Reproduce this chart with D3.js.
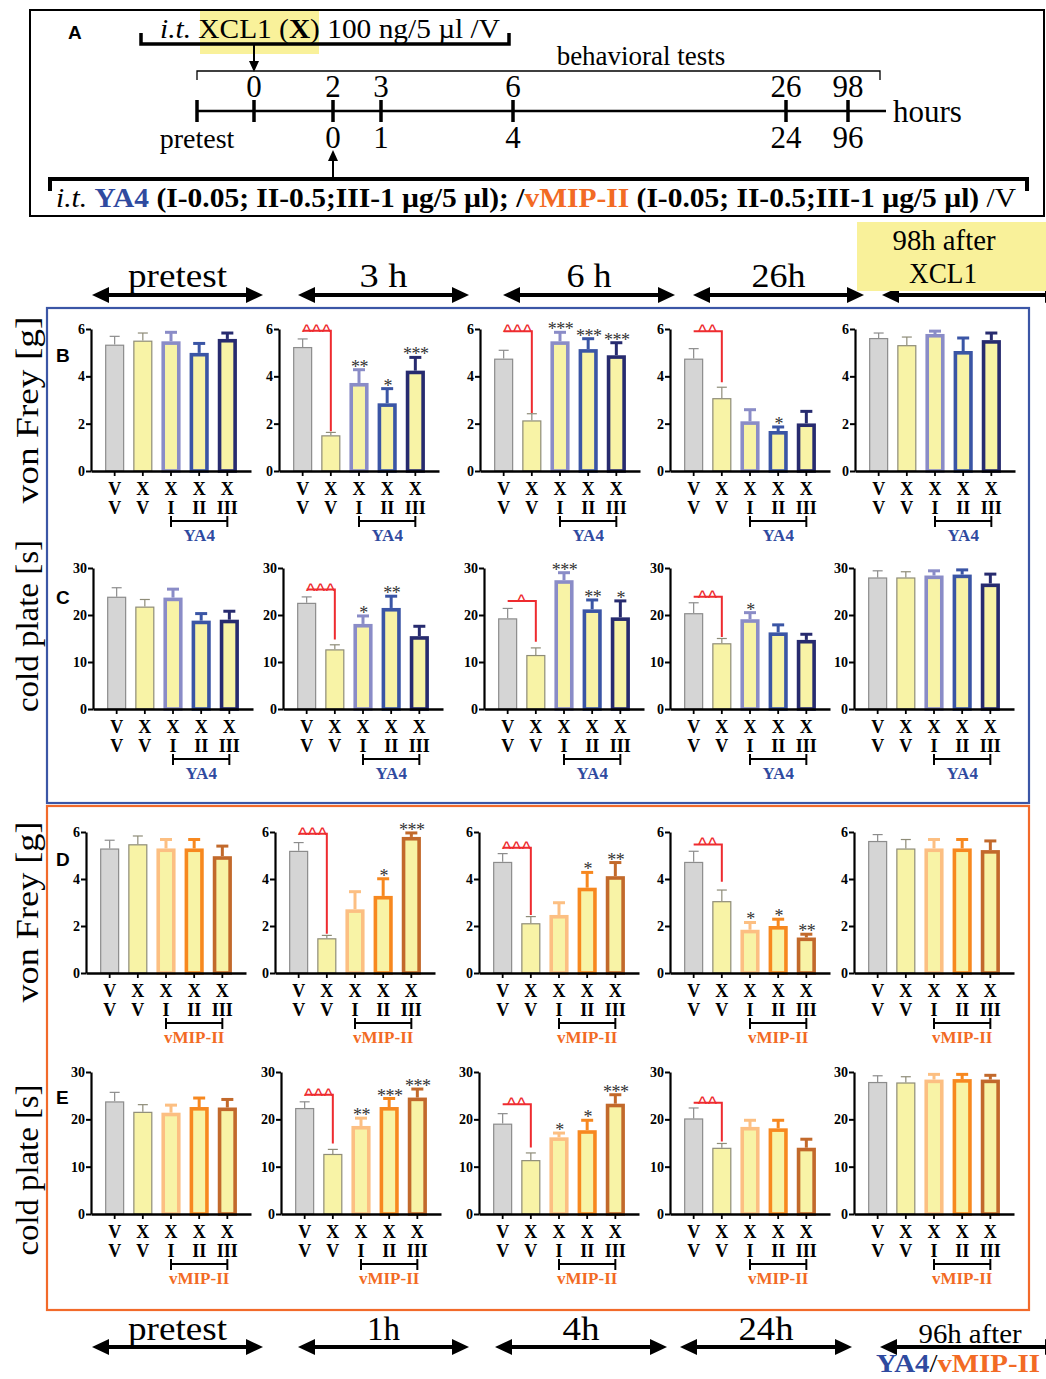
<!DOCTYPE html>
<html><head><meta charset="utf-8">
<script src="https://cdn.jsdelivr.net/npm/d3@7"></script>
<style>body{margin:0;background:#fff}</style>
</head><body>
<svg id="c" width="1046" height="1379" xmlns="http://www.w3.org/2000/svg"></svg>
<script>
// ---------------- DATA ----------------
const groupIds = ["VV","XV","XI","XII","XIII"];
const groupsLine1 = ["V","X","X","X","X"];
const groupsLine2 = ["V","V","I","II","III"];
const timeTop = ["pretest","3 h","6 h","26h"];
const timeTopLast = ["98h after","XCL1"];
const timeBottom = ["pretest","1h","4h","24h"];
const timeBottomLast = "96h after";
const timelineUpper = ["0","2","3","6","26","98"];
const timelineLower = ["0","1","4","24","96"];
const vonFreyTicks = [0,2,4,6];
const coldTicks = [0,10,20,30];

// B: von Frey, YA4 (mean, SEM) per time column
const vfYA4Mean = [[5.34,5.51,5.48,4.99,5.58],[5.24,1.51,3.72,2.86,4.24],[4.75,2.14,5.48,5.15,4.89],[4.75,3.08,2.10,1.69,2.01],[5.62,5.32,5.79,5.07,5.53]];
const vfYA4Err  = [[0.35,0.32,0.38,0.40,0.25],[0.34,0.12,0.56,0.62,0.56],[0.35,0.28,0.38,0.44,0.53],[0.42,0.46,0.49,0.17,0.51],[0.21,0.34,0.12,0.55,0.30]];
// C: cold plate, YA4
const cpYA4Mean = [[23.9,21.8,23.7,18.8,19.0],[22.6,12.7,18.1,21.5,15.5],[19.3,11.5,27.4,21.2,19.5],[20.4,14.0,19.1,16.3,14.7],[28.0,28.0,28.4,28.6,26.7]];
const cpYA4Err  = [[1.9,1.5,1.8,1.5,1.8],[1.25,0.96,1.7,2.5,2.1],[2.1,1.5,1.6,2.0,3.5],[2.2,1.0,1.4,1.6,1.2],[1.4,1.2,1.0,1.0,2.0]];
// D: von Frey, vMIP-II
const vfVMIPMean = [[5.30,5.48,5.30,5.30,4.97],[5.20,1.48,2.71,3.28,5.79],[4.73,2.12,2.47,3.63,4.12],[4.73,3.06,1.84,2.00,1.51],[5.62,5.30,5.30,5.30,5.23]];
const vfVMIPErr  = [[0.35,0.35,0.38,0.38,0.43],[0.35,0.12,0.75,0.73,0.17],[0.35,0.28,0.52,0.65,0.58],[0.45,0.47,0.31,0.29,0.14],[0.27,0.38,0.38,0.38,0.39]];
// E: cold plate, vMIP-II
const cpVMIPMean = [[23.8,21.6,21.4,22.6,22.5],[22.4,12.7,18.6,22.6,24.6],[19.1,11.4,16.2,17.7,23.3],[20.2,14.0,18.4,18.1,14.0],[27.9,27.8,28.4,28.5,28.4]];
const cpVMIPErr  = [[1.9,1.5,1.6,1.9,1.7],[1.3,0.95,1.65,1.8,1.8],[2.1,1.5,0.9,2.1,1.9],[2.2,0.9,1.4,1.7,1.8],[1.3,1.2,1.1,1.0,0.9]];

// significance marks
const starsB = [["","","","",""],["","","**","*","***"],["","","***","***","***"],["","","","*",""],["","","","",""]];
const starsC = [["","","","",""],["","","*","**",""],["","","***","**","*"],["","","*","",""],["","","","",""]];
const starsD = [["","","","",""],["","","","*","***"],["","","","*","**"],["","","*","*","**"],["","","","",""]];
const starsE = [["","","","",""],["","","**","***","***"],["","","*","*","***"],["","","","",""],["","","","",""]];
const caretsB = ["","^^^","^^^","^^",""];
const caretsC = ["","^^^","^","^^",""];
const caretsD = ["","^^^","^^^","^^",""];
const caretsE = ["","^^^","^^","^^",""];
const caretLevelB = [0,5.93,5.9,5.9,0],  caretEndB = [0,1.68,2.45,3.75,0];
const caretLevelC = [0,25.4,23.0,23.9,0], caretEndC = [0,14.8,14.3,15.3,0];
const caretLevelD = [0,5.93,5.33,5.47,0], caretEndD = [0,1.67,2.47,3.88,0];
const caretLevelE = [0,25.2,23.2,23.5,0], caretEndE = [0,14.9,14.05,15.3,0];

// ---------------- STYLE / LAYOUT ----------------
const SERIF = "'Liberation Serif','Times New Roman',serif";
const SANS = "'Liberation Sans',Arial,sans-serif";
const ya4Colors = ["#8a8cc7","#3a55a5","#272b6f"];
const vmipColors = ["#fcbf82","#f7881f","#c2692b"];
const BLUE = "#2f4a9f", ORANGE = "#f26a24", RED = "#ee2b2f";
const GREY_FILL = "#d5d5d5", YEL_FILL = "#f8f3a6";

const rowLayout = [
  {y0:471, yTop:329, axisX:[91,279,480,670,855], letter:"B", letterY:362},
  {y0:709, yTop:568, axisX:[93,283,484,670,854], letter:"C", letterY:604},
  {y0:973, yTop:832, axisX:[86,275,479,670,854], letter:"D", letterY:866},
  {y0:1214, yTop:1072, axisX:[91,281,479,670,854], letter:"E", letterY:1104}
];
const rowsData = [
  {means:vfYA4Mean, errs:vfYA4Err, max:6, ticks:vonFreyTicks, stars:starsB, carets:caretsB, cl:caretLevelB, ce:caretEndB, colors:ya4Colors, drug:"YA4", drugColor:BLUE},
  {means:cpYA4Mean, errs:cpYA4Err, max:30, ticks:coldTicks, stars:starsC, carets:caretsC, cl:caretLevelC, ce:caretEndC, colors:ya4Colors, drug:"YA4", drugColor:BLUE},
  {means:vfVMIPMean, errs:vfVMIPErr, max:6, ticks:vonFreyTicks, stars:starsD, carets:caretsD, cl:caretLevelD, ce:caretEndD, colors:vmipColors, drug:"vMIP-II", drugColor:ORANGE},
  {means:cpVMIPMean, errs:cpVMIPErr, max:30, ticks:coldTicks, stars:starsE, carets:caretsE, cl:caretLevelE, ce:caretEndE, colors:vmipColors, drug:"vMIP-II", drugColor:ORANGE}
];

const svg = d3.select("#c");

// ---------------- PANEL A ----------------
svg.append("rect").attr("x",30).attr("y",10).attr("width",1014).attr("height",206)
  .attr("fill","none").attr("stroke","#000").attr("stroke-width",2);
svg.append("text").attr("x",68).attr("y",39).attr("font-family",SANS).attr("font-weight","bold")
  .attr("font-size",19).text("A");
svg.append("rect").attr("x",200).attr("y",11).attr("width",119).attr("height",43).attr("fill","#f9f19a");
svg.append("path").attr("d","M141,33 V44 H509 V33").attr("fill","none").attr("stroke","#000").attr("stroke-width",3.5);
const topT = svg.append("text").attr("x",160).attr("y",38).attr("font-family",SERIF).attr("font-size",27)
  .attr("textLength",340).attr("lengthAdjust","spacingAndGlyphs");
topT.append("tspan").attr("font-style","italic").text("i.t.");
topT.append("tspan").text(" XCL1 (");
topT.append("tspan").attr("font-weight","bold").text("X");
topT.append("tspan").text(") 100 ng/5 µl  /V");
function arrow(x, y1, y2){
  svg.append("line").attr("x1",x).attr("x2",x).attr("y1",y1).attr("y2",y2 + (y2>y1?-8:8)).attr("stroke","#000").attr("stroke-width",2);
  const d = y2>y1 ? -1 : 1;
  svg.append("path").attr("d",`M${x},${y2} L${x-5},${y2+d*11} L${x+5},${y2+d*11} Z`).attr("fill","#000");
}
arrow(254,44,72);
arrow(333,179,150);
svg.append("path").attr("d","M197,80 V71 H880 V80").attr("fill","none").attr("stroke","#000").attr("stroke-width",1.3);
svg.append("text").attr("x",641).attr("y",65).attr("text-anchor","middle").attr("font-family",SERIF)
  .attr("font-size",27).text("behavioral tests");
const tlX = [197,254,333,381,513,786,848];
svg.append("line").attr("x1",197).attr("x2",886).attr("y1",111).attr("y2",111).attr("stroke","#000").attr("stroke-width",2.5);
tlX.forEach(x=>svg.append("line").attr("x1",x).attr("x2",x).attr("y1",100).attr("y2",122).attr("stroke","#000").attr("stroke-width",3.5));
timelineUpper.forEach((t,i)=>svg.append("text").attr("x",tlX[i+1]).attr("y",97).attr("text-anchor","middle")
  .attr("font-family",SERIF).attr("font-size",31).text(t));
svg.append("text").attr("x",197).attr("y",148).attr("text-anchor","middle").attr("font-family",SERIF).attr("font-size",28).text("pretest");
timelineLower.forEach((t,i)=>svg.append("text").attr("x",tlX[i+2]).attr("y",148).attr("text-anchor","middle")
  .attr("font-family",SERIF).attr("font-size",31).text(t));
svg.append("text").attr("x",893).attr("y",122).attr("font-family",SERIF).attr("font-size",31).text("hours");
svg.append("path").attr("d","M50,191 V179 H1027 V191").attr("fill","none").attr("stroke","#000").attr("stroke-width",4);
const botT = svg.append("text").attr("x",56).attr("y",207).attr("font-family",SERIF).attr("font-size",27)
  .attr("textLength",960).attr("lengthAdjust","spacingAndGlyphs");
botT.append("tspan").attr("font-style","italic").text("i.t. ");
botT.append("tspan").attr("font-weight","bold").attr("fill",BLUE).text("YA4");
botT.append("tspan").attr("font-weight","bold").text(" (I-0.05; II-0.5;III-1 µg/5 µl); /");
botT.append("tspan").attr("font-weight","bold").attr("fill",ORANGE).text("vMIP-II");
botT.append("tspan").attr("font-weight","bold").text(" (I-0.05; II-0.5;III-1 µg/5 µl)");
botT.append("tspan").text(" /V");

// ---------------- TIME RANGE ARROWS ----------------
function dblArrow(x1,x2,y){
  svg.append("line").attr("x1",x1+12).attr("x2",x2-12).attr("y1",y).attr("y2",y).attr("stroke","#000").attr("stroke-width",4);
  svg.append("path").attr("d",`M${x1},${y} L${x1+17},${y-8} L${x1+17},${y+8} Z`).attr("fill","#000");
  svg.append("path").attr("d",`M${x2},${y} L${x2-17},${y-8} L${x2-17},${y+8} Z`).attr("fill","#000");
}
const topArrowX = [[92,263],[298,469],[503,675],[693,864],[882,1062]];
topArrowX.forEach(a=>dblArrow(a[0],a[1],295));
svg.append("rect").attr("x",857).attr("y",222).attr("width",189).attr("height",69).attr("fill","#f9f19a");
const topLabW = [99,48,45,54];
timeTop.forEach((t,i)=>svg.append("text").attr("x",(topArrowX[i][0]+topArrowX[i][1])/2).attr("y",287)
  .attr("text-anchor","middle").attr("font-family",SERIF).attr("font-size",33)
  .attr("textLength",topLabW[i]).attr("lengthAdjust","spacingAndGlyphs").text(t));
svg.append("text").attr("x",944).attr("y",250).attr("text-anchor","middle").attr("font-family",SERIF).attr("font-size",29)
  .attr("textLength",103).attr("lengthAdjust","spacingAndGlyphs").text(timeTopLast[0]);
svg.append("text").attr("x",943).attr("y",283).attr("text-anchor","middle").attr("font-family",SERIF).attr("font-size",29)
  .attr("textLength",68).attr("lengthAdjust","spacingAndGlyphs").text(timeTopLast[1]);

const botArrowX = [[92,263],[298,469],[495,667],[680,852],[880,1062]];
botArrowX.forEach(a=>dblArrow(a[0],a[1],1347));
const botLabW = [99,33,37,55];
timeBottom.forEach((t,i)=>svg.append("text").attr("x",(botArrowX[i][0]+botArrowX[i][1])/2).attr("y",1340)
  .attr("text-anchor","middle").attr("font-family",SERIF).attr("font-size",33)
  .attr("textLength",botLabW[i]).attr("lengthAdjust","spacingAndGlyphs").text(t));
svg.append("text").attr("x",970).attr("y",1343).attr("text-anchor","middle").attr("font-family",SERIF).attr("font-size",27)
  .attr("textLength",103).attr("lengthAdjust","spacingAndGlyphs").text(timeBottomLast);
const yv = svg.append("text").attr("x",876).attr("y",1372).attr("font-family",SERIF).attr("font-size",26).attr("font-weight","bold")
  .attr("textLength",164).attr("lengthAdjust","spacingAndGlyphs");
yv.append("tspan").attr("fill",BLUE).text("YA4");
yv.append("tspan").attr("fill","#000").attr("font-weight","normal").text("/");
yv.append("tspan").attr("fill",ORANGE).text("vMIP-II");

// ---------------- BOXES ----------------
svg.append("rect").attr("x",47).attr("y",308).attr("width",982).attr("height",495).attr("fill","none").attr("stroke","#3b56a6").attr("stroke-width",2.2);
svg.append("rect").attr("x",47).attr("y",806).attr("width",982).attr("height",504).attr("fill","none").attr("stroke","#f26a2a").attr("stroke-width",2.2);

const sideLabels = [["von Frey [g]",410,187],["cold plate [s]",626,172],["von Frey [g]",912,181],["cold plate [s]",1170,171]];
sideLabels.forEach(s=>svg.append("text").attr("transform",`translate(38,${s[1]}) rotate(-90)`).attr("text-anchor","middle")
  .attr("font-family",SERIF).attr("font-size",32).attr("textLength",s[2]).attr("lengthAdjust","spacingAndGlyphs").text(s[0]));

// ---------------- BAR PANELS ----------------
rowsData.forEach((rd, r) => {
  const L = rowLayout[r];
  svg.append("text").attr("x",56).attr("y",L.letterY).attr("font-family",SANS).attr("font-weight","bold").attr("font-size",19).text(L.letter);
  for (let c = 0; c < 5; c++) {
    const ax = L.axisX[c];
    const g = svg.append("g");
    const x = d3.scaleBand().domain(groupIds).range([ax, ax+160]).paddingInner(0.32).paddingOuter(0.5);
    const y = d3.scaleLinear().domain([0, rd.max]).range([L.y0, L.yTop]);
    const bw = x.bandwidth();
    groupIds.forEach((id, i) => {
      const m = rd.means[c][i], e = rd.errs[c][i];
      const thick = i >= 2;
      const stroke = i === 0 ? "#8c8c8c" : (i === 1 ? "#8e8c78" : rd.colors[i-2]);
      const sw = thick ? 3.6 : 1.2;
      const cx = x(id) + bw/2;
      g.append("line").attr("x1",cx).attr("x2",cx).attr("y1",y(m)).attr("y2",y(m+e)).attr("stroke",stroke).attr("stroke-width",thick?3:1.2);
      const cw = thick ? 6 : 5;
      g.append("line").attr("x1",cx-cw).attr("x2",cx+cw).attr("y1",y(m+e)).attr("y2",y(m+e)).attr("stroke",stroke).attr("stroke-width",thick?3:1.2);
      g.append("rect").attr("x",x(id)+sw/2).attr("y",y(m)+sw/2).attr("width",bw-sw).attr("height",Math.max(0,y(0)-y(m)-sw/2))
        .attr("fill", i===0?GREY_FILL:YEL_FILL).attr("stroke",stroke).attr("stroke-width",sw);
      const st = rd.stars[c][i];
      if (st) g.append("text").attr("x",cx+0.5).attr("y",y(m+e)+3).attr("text-anchor","middle").attr("font-family",SERIF)
        .attr("font-size",18).attr("letter-spacing",-0.5).attr("fill","#333").text(st);
    });
    if (rd.carets[c]) {
      const x1 = x("VV")+bw/2, x2 = x("XV")+bw/2;
      g.append("path").attr("d",`M${x1},${y(rd.cl[c])} H${x2} V${y(rd.ce[c])}`).attr("fill","none").attr("stroke",RED).attr("stroke-width",2);
      g.append("text").attr("x",(x1+x2)/2).attr("y",y(rd.cl[c])+8).attr("text-anchor","middle").attr("font-family",SANS)
        .attr("font-size",20).attr("letter-spacing",0.5).attr("fill",RED).text(rd.carets[c]);
    }
    const ya = g.append("g").attr("transform",`translate(${ax},0)`)
      .call(d3.axisLeft(y).tickValues(rd.ticks).tickSize(5).tickSizeOuter(0).tickFormat(d3.format("d")));
    ya.select(".domain").attr("stroke-width",2.2);
    ya.selectAll(".tick line").attr("stroke-width",2);
    ya.selectAll(".tick text").attr("font-family",SERIF).attr("font-weight","bold").attr("font-size",14).attr("x",-6);
    const xa = g.append("g").attr("transform",`translate(0,${L.y0})`)
      .call(d3.axisBottom(x).tickSize(5).tickSizeOuter(0).tickFormat(""));
    xa.select(".domain").attr("stroke-width",2.4);
    xa.selectAll(".tick line").attr("stroke-width",1.8);
    groupIds.forEach((id,i)=>{
      const cx = x(id)+bw/2;
      g.append("text").attr("x",cx).attr("y",L.y0+24).attr("text-anchor","middle").attr("font-family",SERIF).attr("font-weight","bold").attr("font-size",18).text(groupsLine1[i]);
      g.append("text").attr("x",cx).attr("y",L.y0+43).attr("text-anchor","middle").attr("font-family",SERIF).attr("font-weight","bold").attr("font-size",18).text(groupsLine2[i]);
    });
    const bx1 = x("XI")+bw/2, bx2 = x("XIII")+bw/2;
    g.append("path").attr("d",`M${bx1},${L.y0+45} V${L.y0+56} M${bx1},${L.y0+50} H${bx2} M${bx2},${L.y0+45} V${L.y0+56}`)
      .attr("stroke","#000").attr("stroke-width",2).attr("fill","none");
    g.append("text").attr("x",(bx1+bx2)/2).attr("y",L.y0+70).attr("text-anchor","middle").attr("font-family",SERIF)
      .attr("font-weight","bold").attr("font-size",17).attr("fill",rd.drugColor).text(rd.drug);
  }
});
</script>
</body></html>
